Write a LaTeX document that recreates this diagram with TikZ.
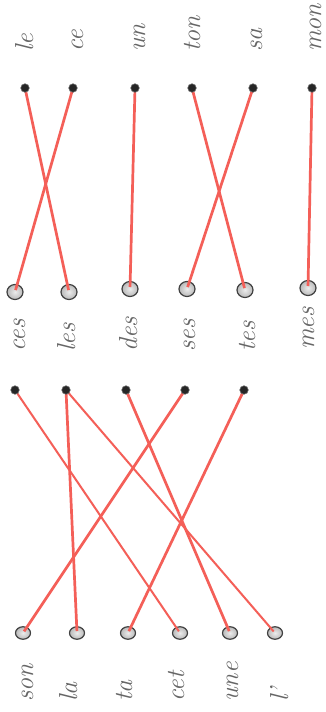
\documentclass[tikz,border=0pt]{standalone}
\usetikzlibrary{shapes.geometric}
\pgfdeclarelayer{fg}
\pgfsetlayers{main,fg}
\definecolor{linkred}{HTML}{F45F58}
\definecolor{wordgray}{HTML}{666666}
\tikzset{
  smalldot/.style={circle, fill=black!85, draw=black!60, line width=0.6pt, inner sep=0pt, minimum size=8.5pt},
  bigring/.style={ellipse, draw=black!75, line width=1.2pt, inner color=gray!15, outer color=gray!55, inner sep=0pt, minimum width=16pt, minimum height=15pt},
  smallring/.style={ellipse, draw=black!75, line width=1.2pt, inner color=gray!15, outer color=gray!55, inner sep=0pt, minimum width=15pt, minimum height=12.5pt},
  thicklink/.style={draw=linkred, line width=2.7pt, shorten >=2pt},
  thinlink/.style={draw=linkred, line width=2pt, shorten >=2pt},
  word/.style={rotate=90, anchor=base west, inner sep=0pt, text=wordgray, font=\fontsize{26}{26}\selectfont\itshape}
}
\begin{document}
\begin{tikzpicture}[x=1pt,y=-1pt]
\useasboundingbox[fill=white] (0,0) rectangle (326,712);
% ---------- top exercise ----------
\node[word] (wle)  at (33,52)  {le};
\node[word] (wce)  at (83,52)  {ce};
\node[word] (wun)  at (145,52) {un};
\node[word] (wton) at (200,52) {ton};
\node[word] (wsa)  at (262,52) {sa};
\node[word] (wmon) at (321,52) {mon};
\begin{pgfonlayer}{fg}
\node[smalldot] (t1) at (25,88)  {};
\node[smalldot] (t2) at (73,88)  {};
\node[smalldot] (t3) at (135,88) {};
\node[smalldot] (t4) at (192,88) {};
\node[smalldot] (t5) at (253,88) {};
\node[smalldot] (t6) at (312,88) {};
\end{pgfonlayer}
\node[bigring] (m1) at (15,292)  {};
\node[bigring] (m2) at (69,292)  {};
\node[bigring] (m3) at (130,289) {};
\node[bigring] (m4) at (187,289) {};
\node[bigring] (m5) at (245,290) {};
\node[bigring] (m6) at (308,288) {};
\node[word] (wces) at (25,352)  {ces};
\node[word] (wles) at (75,352)  {les};
\node[word] (wdes) at (137,352) {des};
\node[word] (wses) at (195,352) {ses};
\node[word] (wtes) at (255,352) {tes};
\node[word] (wmes) at (314,350) {mes};
\draw[thicklink] (t1.center) -- (m2.center);
\draw[thicklink] (t2.center) -- (m1.center);
\draw[thicklink] (t3.center) -- (m3.center);
\draw[thicklink] (t4.center) -- (m5.center);
\draw[thicklink] (t5.center) -- (m4.center);
\draw[thicklink] (t6.center) -- (m6.center);
% ---------- bottom exercise ----------
\begin{pgfonlayer}{fg}
\node[smalldot] (b1) at (15,390)  {};
\node[smalldot] (b2) at (66,390)  {};
\node[smalldot] (b3) at (126,390) {};
\node[smalldot] (b4) at (185,390) {};
\node[smalldot] (b5) at (244,390) {};
\end{pgfonlayer}
\node[smallring] (c1) at (23,633)  {};
\node[smallring] (c2) at (77,633)  {};
\node[smallring] (c3) at (128,633) {};
\node[smallring] (c4) at (180,633) {};
\node[smallring] (c5) at (230,633) {};
\node[smallring] (c6) at (275,633) {};
\node[word] (wson) at (33,702)  {son};
\node[word] (wla)  at (77,702)  {la};
\node[word] (wta)  at (132,702) {ta};
\node[word] (wcet) at (184,702) {cet};
\node[word] (wune) at (238,702) {une};
\node[word] (wl)   at (288,702) {l'};
\draw[thinlink]  (b1.center) -- (c4.center);
\draw[thicklink] (b2.center) -- (c2.center);
\draw[thinlink]  (b2.center) -- (c6.center);
\draw[thicklink] (b3.center) -- (c5.center);
\draw[thicklink] (b4.center) -- (c1.center);
\draw[thicklink] (b5.center) -- (c3.center);
\end{tikzpicture}
\end{document}
